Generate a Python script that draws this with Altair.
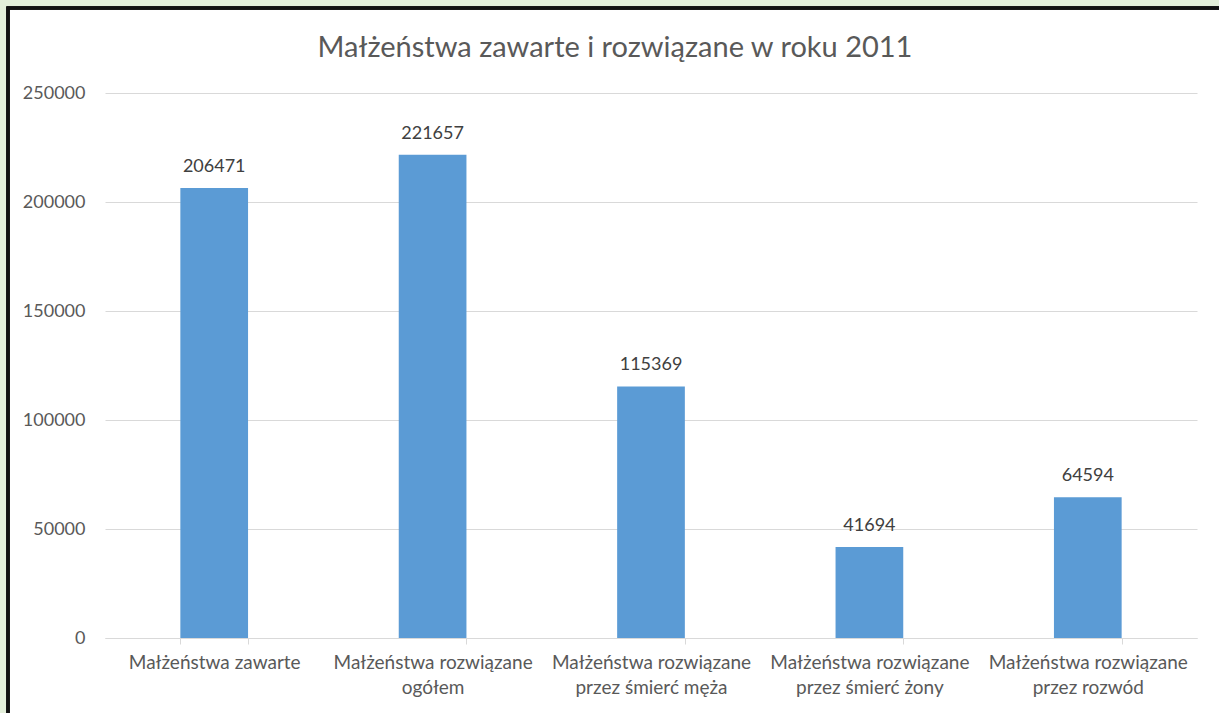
import altair as alt
import pandas as pd

categories = [
    "Małżeństwa zawarte",
    "Małżeństwa rozwiązane ogółem",
    "Małżeństwa rozwiązane przez śmierć męża",
    "Małżeństwa rozwiązane przez śmierć żony",
    "Małżeństwa rozwiązane przez rozwód",
]
values = [206471, 221657, 115369, 41694, 64594]
y_ticks = [0, 50000, 100000, 150000, 200000, 250000]

df = pd.DataFrame({"kategoria": categories, "liczba": values})

FONT = "Lato"
GREEN = "#e3efda"

strip_top = alt.Chart(df).mark_rect(fill=GREEN, clip=False).encode(
    x=alt.value(-105), x2=alt.value(1300), y=alt.value(-93), y2=alt.value(-86)
)
strip_left = alt.Chart(df).mark_rect(fill=GREEN, clip=False).encode(
    x=alt.value(-105), x2=alt.value(-97), y=alt.value(-93), y2=alt.value(900)
)
frame = alt.Chart(df).mark_rect(
    fill=None, fillOpacity=0, stroke="#111111", strokeWidth=3, clip=False
).encode(
    x=alt.value(-97), x2=alt.value(1400),
    y=alt.value(-85), y2=alt.value(900),
)

base = alt.Chart(df).encode(
    x=alt.X(
        "kategoria:N",
        sort=None,
        title=None,
        scale=alt.Scale(paddingInner=0.69, paddingOuter=0.345),
        axis=alt.Axis(
            labelAngle=0,
            labelExpr="split(replace(datum.label, 'zane ', 'zane|'), '|')",
            labelFont=FONT,
            labelFontSize=19,
            labelColor="#595959",
            labelLineHeight=25,
            labelPadding=9,
            labelLimit=0,
            domainColor="#d9d9d9",
            tickColor="#d9d9d9",
            tickSize=6,
            tickBand="extent",
            grid=False,
        ),
    ),
    y=alt.Y(
        "liczba:Q",
        title=None,
        scale=alt.Scale(domain=[0, 250000], nice=False),
        axis=alt.Axis(
            values=y_ticks,
            format="d",
            labelFont=FONT,
            labelFontSize=18,
            labelColor="#595959",
            labelPadding=20,
            domain=False,
            ticks=False,
            gridColor="#d9d9d9",
            gridWidth=1,
        ),
    ),
)

bars = base.mark_bar(color="#5b9bd5")
labels = base.mark_text(
    baseline="bottom", dy=-12, font=FONT, fontSize=18, color="#404040"
).encode(text="liczba:Q")

chart = alt.layer(strip_top, strip_left, frame, bars, labels).properties(
    width=1092,
    height=545,
    padding={"left": 105, "top": 93, "right": 22, "bottom": 75},
    autosize=alt.AutoSizeParams(type="none"),
    background="white",
    title=alt.TitleParams(
        "Małżeństwa zawarte i rozwiązane w roku 2011",
        font=FONT,
        fontSize=29,
        fontWeight="normal",
        color="#595959",
        offset=0,
        dy=63,
        dx=-36,
        anchor="middle",
    ),
).configure_view(stroke=None)

chart.save("out.html", embed_options={"renderer": "svg", "actions": False})
